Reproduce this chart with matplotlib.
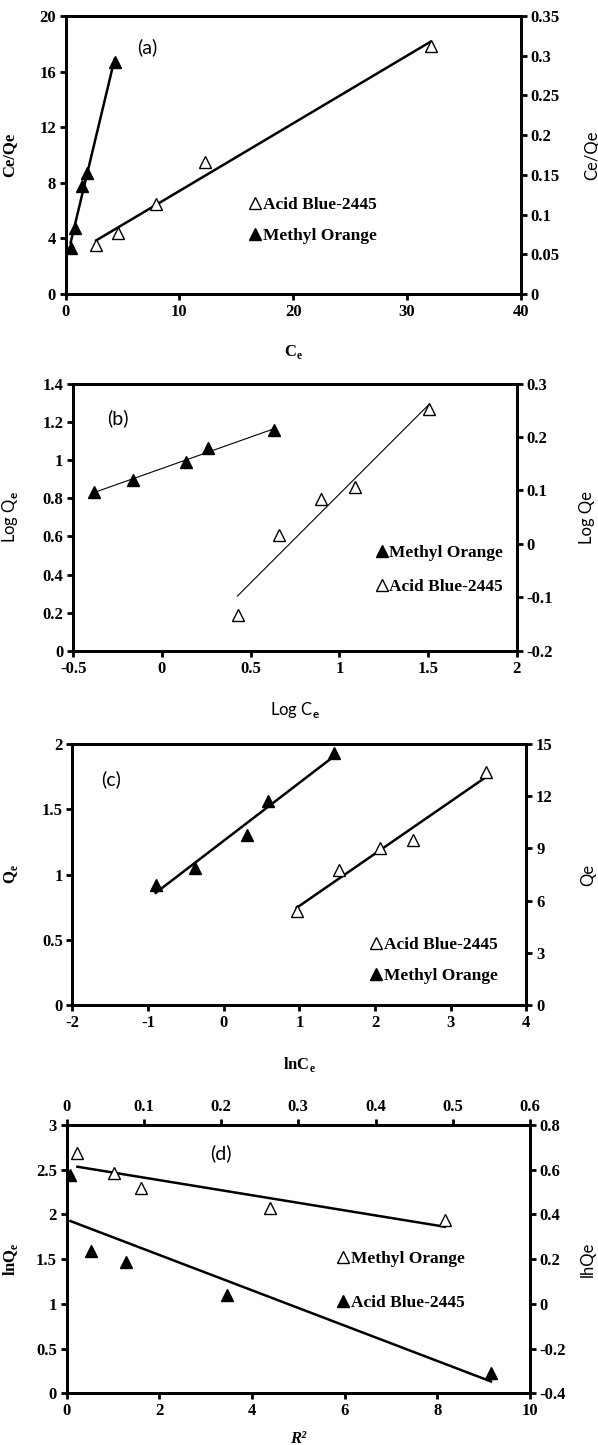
import matplotlib
matplotlib.use('Agg')
import matplotlib.pyplot as plt
from matplotlib.ticker import FuncFormatter
import numpy as np

plt.rcParams['font.family'] = ['Liberation Serif', 'DejaVu Sans']
plt.rcParams['font.weight'] = 'bold'
plt.rcParams['axes.labelweight'] = 'bold'
plt.rcParams['axes.unicode_minus'] = False
plt.rcParams['mathtext.fontset'] = 'custom'
plt.rcParams['mathtext.rm'] = 'Liberation Serif:bold'
plt.rcParams['mathtext.bf'] = 'Liberation Serif:bold'
plt.rcParams['mathtext.sf'] = 'Lato'

# (a) Ce/Qe vs Ce
a_ab_x = [2.68, 4.63, 7.92, 12.25, 32.08]
a_ab_y = [3.53, 4.36, 6.47, 9.52, 17.84]
a_mo_x = [0.44, 0.80, 1.44, 1.88, 4.30]
a_mo_y = [3.29, 4.77, 7.77, 8.68, 16.7]

# (b) Log Qe vs Log Ce
b_mo_x = [-0.38, -0.165, 0.134, 0.259, 0.629]
b_mo_y = [0.833, 0.894, 0.99, 1.06, 1.156]
b_ab_x = [0.426, 0.661, 0.899, 1.086, 1.506]
b_ab_y = [0.188, 0.607, 0.793, 0.859, 1.266]

# (c) Qe vs lnCe
c_ab_x = [0.965, 1.52, 2.065, 2.503, 3.461]
c_ab_y = [0.723, 1.034, 1.20, 1.264, 1.783]
c_mo_x = [-0.90, -0.386, 0.31, 0.587, 1.454]
c_mo_y = [0.92, 1.047, 1.303, 1.563, 1.934]

# (d) lnQe vs R^2
d_mo_x = [0.23, 1.03, 1.605, 4.387, 8.165]
d_mo_y = [2.684, 2.467, 2.292, 2.076, 1.938]
d_ab_x = [0.082, 0.535, 1.276, 3.465, 9.16]
d_ab_y = [2.441, 1.595, 1.472, 1.10, 0.231]

fmt = FuncFormatter(lambda v, p: '%g' % round(v, 6))
sans = 'Lato'


def style(ax, lw=2):
    for s in ax.spines.values():
        s.set_linewidth(lw)
    ax.tick_params(direction='out', length=4, width=2, labelsize=12, pad=3)
    ax.xaxis.set_major_formatter(fmt)
    ax.yaxis.set_major_formatter(fmt)


def points(ax, x, y, filled, label):
    ax.plot(x, y, '^', ms=9, mec='black', mew=1,
            mfc='black' if filled else 'white', label=label, zorder=3)


def trend(ax, x, y, lw):
    k, b = np.polyfit(x, y, 1)
    xx = np.array([min(x), max(x)])
    ax.plot(xx, k * xx + b, color='black', lw=lw, zorder=2)


def legend(ax, x, y, spacing):
    ax.legend(loc='center left', bbox_to_anchor=(x, y), frameon=False,
              handlelength=0.6, handletextpad=0.15, labelspacing=spacing,
              borderaxespad=0, prop={'family': 'Liberation Serif', 'weight': 'bold', 'size': 12.5})


fig = plt.figure(figsize=(5.98, 14.45), dpi=100)

# ---------- (a)
ax = fig.add_axes([0.1097, 0.7965, 0.7609, 0.1924])
points(ax, a_ab_x, a_ab_y, False, 'Acid Blue-2445')
points(ax, a_mo_x, a_mo_y, True, 'Methyl Orange')
trend(ax, a_ab_x, a_ab_y, 1.8)
trend(ax, a_mo_x, a_mo_y, 1.8)
ax.set_xlim(0, 40); ax.set_xticks(range(0, 41, 10))
ax.set_ylim(0, 20); ax.set_yticks(range(0, 21, 4))
style(ax)
ax.set_xlabel('C$_\\mathbf{e}$', fontsize=12)
ax.xaxis.set_label_coords(0.5, -0.176)
ax.set_ylabel('Ce/Qe', fontsize=12)
ax.yaxis.set_label_coords(-0.105, 0.5)
ax.text(0.179, 0.887, '(a)', transform=ax.transAxes, family=sans, weight='normal',
        fontsize=14, ha='center', va='center')
legend(ax, 0.39, 0.266, 0.85)
ax2 = ax.twinx()
ax2.set_ylim(0, 0.35); ax2.set_yticks(np.arange(0, 0.351, 0.05))
style(ax2)
ax2.set_ylabel('Ce/Qe', family=sans, weight='normal', fontsize=12)
ax2.yaxis.set_label_coords(1.14, 0.5)

# ---------- (b)
ax = fig.add_axes([0.1224, 0.5495, 0.7418, 0.1851])
points(ax, b_mo_x, b_mo_y, True, 'Methyl Orange')
points(ax, b_ab_x, b_ab_y, False, 'Acid Blue-2445')
trend(ax, b_mo_x, b_mo_y, 0.8)
trend(ax, b_ab_x, b_ab_y, 0.8)
ax.set_xlim(-0.5, 2); ax.set_xticks(np.arange(-0.5, 2.01, 0.5))
ax.set_ylim(0, 1.4); ax.set_yticks(np.arange(0, 1.41, 0.2))
style(ax)
ax.set_xlabel('Log C$_\\mathsf{e}$', family=sans, weight='normal', fontsize=12)
ax.xaxis.set_label_coords(0.5, -0.183)
ax.set_ylabel('Log Q$_\\mathsf{e}$', family=sans, weight='normal', fontsize=12)
ax.yaxis.set_label_coords(-0.12, 0.5)
ax.text(0.101, 0.871, '(b)', transform=ax.transAxes, family=sans, weight='normal',
        fontsize=14, ha='center', va='center')
legend(ax, 0.668, 0.302, 1.05)
ax2 = ax.twinx()
ax2.set_ylim(-0.2, 0.3); ax2.set_yticks(np.arange(-0.2, 0.31, 0.1))
style(ax2)
ax2.set_ylabel('Log Qe', family=sans, weight='normal', fontsize=12)
ax2.yaxis.set_label_coords(1.14, 0.5)

# ---------- (c)
ax = fig.add_axes([0.1212, 0.3045, 0.7589, 0.1806])
points(ax, c_ab_x, c_ab_y, False, 'Acid Blue-2445')
points(ax, c_mo_x, c_mo_y, True, 'Methyl Orange')
trend(ax, c_ab_x, c_ab_y, 1.8)
trend(ax, c_mo_x, c_mo_y, 1.8)
ax.set_xlim(-2, 4); ax.set_xticks(range(-2, 5))
ax.set_ylim(0, 2); ax.set_yticks(np.arange(0, 2.01, 0.5))
style(ax)
ax.set_xlabel('lnC$_\\mathbf{e}$', fontsize=12)
ax.xaxis.set_label_coords(0.5, -0.19)
ax.set_ylabel('Q$_\\mathbf{e}$', fontsize=12)
ax.yaxis.set_label_coords(-0.116, 0.5)
ax.text(0.086, 0.866, '(c)', transform=ax.transAxes, family=sans, weight='normal',
        fontsize=14, ha='center', va='center')
legend(ax, 0.642, 0.172, 0.85)
ax2 = ax.twinx()
ax2.set_ylim(0, 15); ax2.set_yticks(range(0, 16, 3))
style(ax2)
ax2.set_ylabel('Qe', family=sans, weight='normal', fontsize=12)
ax2.yaxis.set_label_coords(1.118, 0.5)

# ---------- (d)
ax = fig.add_axes([0.1115, 0.0358, 0.7747, 0.1857])
points(ax, d_mo_x, d_mo_y, False, 'Methyl Orange')
points(ax, d_ab_x, d_ab_y, True, 'Acid Blue-2445')
trend(ax, d_mo_x, d_mo_y, 1.8)
trend(ax, d_ab_x, d_ab_y, 1.8)
ax.set_xlim(0, 10); ax.set_xticks(range(0, 11, 2))
ax.set_ylim(0, 3); ax.set_yticks(np.arange(0, 3.01, 0.5))
style(ax)
ax.set_xlabel('R²', style='italic', fontsize=12)
ax.xaxis.set_label_coords(0.5, -0.14)
ax.set_ylabel('lnQ$_\\mathbf{e}$', fontsize=12)
ax.yaxis.set_label_coords(-0.1, 0.5)
ax.text(0.332, 0.894, '(d)', transform=ax.transAxes, family=sans, weight='normal',
        fontsize=14, ha='center', va='center')
legend(ax, 0.57, 0.42, 1.6)
ax2 = ax.twinx()
ax2.set_ylim(-0.4, 0.8); ax2.set_yticks(np.arange(-0.4, 0.81, 0.2))
style(ax2)
ax2.set_ylabel('lhQe', family=sans, weight='normal', fontsize=12)
ax2.yaxis.set_label_coords(1.108, 0.5)
ax3 = ax.twiny()
ax3.set_xlim(0, 0.6); ax3.set_xticks(np.arange(0, 0.61, 0.1))
style(ax3)

fig.savefig('out.png', dpi=100)
